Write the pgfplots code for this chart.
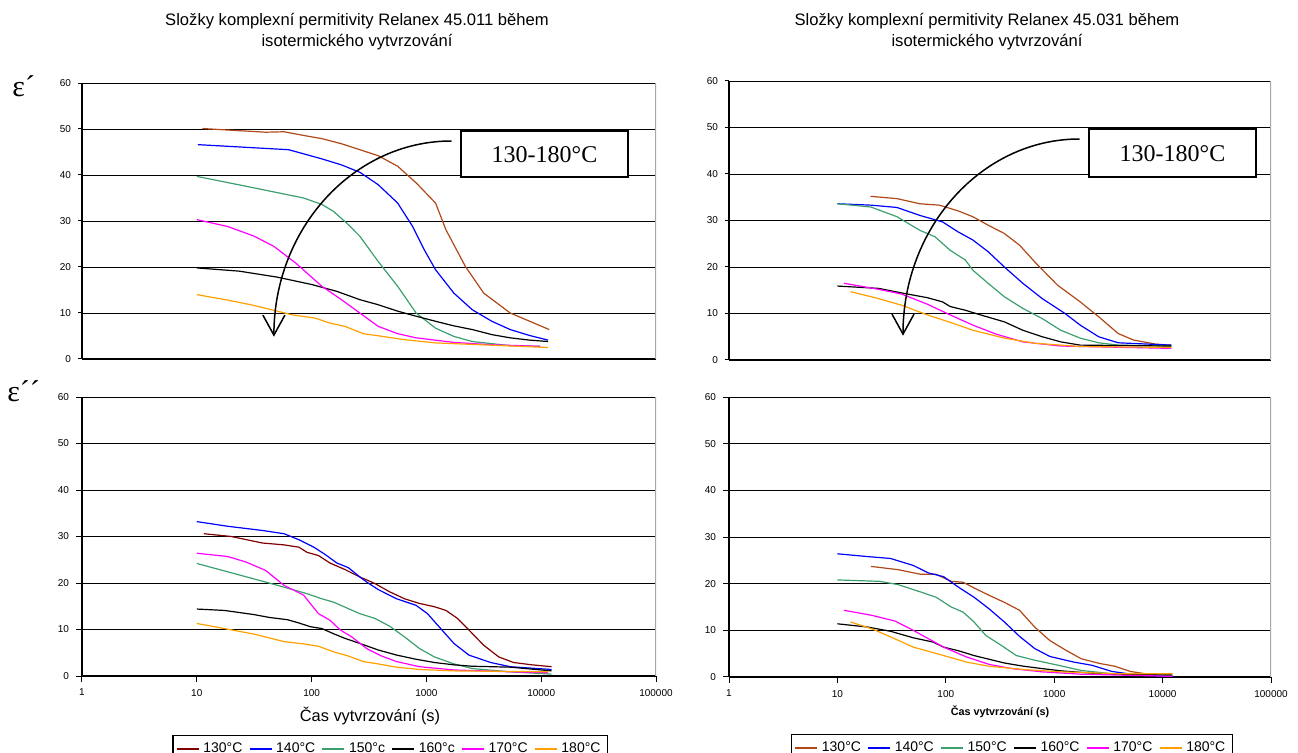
\documentclass[border=0pt]{standalone}
\usepackage{fontspec}
\setmainfont{Liberation Sans}
\newfontfamily\serif{Liberation Serif}
\usepackage{pgfplots}
\pgfplotsset{compat=1.18}
\usetikzlibrary{arrows.meta}
\pgfkeys{/pgf/number format/assume math mode=true}

\definecolor{cBrown}{RGB}{176,72,24}
\definecolor{cMaroon}{RGB}{128,0,0}
\definecolor{cBlue}{RGB}{0,0,255}
\definecolor{cGreen}{RGB}{60,160,110}
\definecolor{cMag}{RGB}{255,0,255}
\definecolor{cOrange}{RGB}{255,160,0}

\pgfplotsset{
 /pgfplots/panel/.style={
  xmin=1, xmax=100000, ymin=0, ymax=60,
  ytick={0,10,...,60}, ymajorgrids, grid style={black,line width=0.45pt},
  axis lines=left, axis line style={-, black, line width=0.6pt},
  scale only axis,
  tick label style={font=\fontsize{5}{6}\selectfont, black},
  tick style={black, line width=0.5pt}, tick align=outside, major tick length=2pt,
  xminorticks=false, yminorticks=false,
  every axis plot/.append style={line width=0.6pt, no marks},
 },
 /pgfplots/leg/.style={legend columns=6,
   legend style={draw=black, line width=0.6pt,
   font=\fontsize{7}{8}\selectfont, inner sep=1.5pt,
   /tikz/every even column/.append style={column sep=1.2pt}},
   legend image code/.code={\draw[##1,line width=0.7pt] (0pt,0pt)--(11pt,0pt);}},
}

\begin{document}
\begin{tikzpicture}
\path[use as bounding box] (0pt,0pt) rectangle (649pt,-376.5pt);

% ---------- top left ----------
\begin{axis}[xmode=log, panel, xtick=\empty, at={(41pt,-179.5pt)}, anchor=south west, width=287pt, height=138pt]
\addplot[cBrown] coordinates {(11.2,50.1) (39.8,49.3) (57.5,49.4) (85.1,48.6) (123,47.9) (182,46.8) (263,45.5) (380,44.2) (562,41.9) (813,38.3) (1202,33.9) (1479,28.1) (2188,20.1) (3162,14.3) (5370,10.0) (7943,8.2) (11749,6.4)};
\addplot[cBlue] coordinates {(10.2,46.6) (63.1,45.5) (123,43.5) (182,42.2) (263,40.6) (380,37.9) (562,33.9) (759,28.8) (955,23.8) (1202,19.4) (1738,14.3) (2512,10.7) (3715,8.2) (5370,6.4) (7943,5.1) (11482,4.1)};
\addplot[cGreen] coordinates {(10,39.7) (27.5,37.5) (85.1,35.0) (123,33.6) (155,32.1) (209,29.2) (263,26.7) (380,21.2) (562,15.8) (813,10.0) (1202,6.7) (1738,4.9) (2512,3.8) (5370,2.9) (9772,2.75)};
\addplot[black] coordinates {(10,19.8) (23.4,19.1) (50.1,17.8) (100,16.2) (166,14.7) (263,12.9) (380,11.8) (562,10.4) (813,9.3) (1202,8.2) (1738,7.2) (2512,6.4) (3715,5.3) (5370,4.6) (7943,4.1) (11482,3.8)};
\addplot[cMag] coordinates {(10,30.3) (18.6,28.8) (31.6,26.7) (46.8,24.5) (72.4,20.9) (123,15.8) (182,12.9) (263,10.0) (380,7.1) (562,5.5) (813,4.6) (1738,3.6) (3715,3.1) (9772,2.75)};
\addplot[cOrange] coordinates {(10,14.0) (18.6,12.8) (29.5,11.8) (46.8,10.6) (67.6,9.6) (107,8.9) (144.5,7.8) (195,7.1) (282,5.5) (417,4.9) (646,4.2) (1202,3.5) (3715,3.0) (11482,2.5)};
\draw[gray!70, line width=0.6pt] (rel axis cs:1,0) -- (rel axis cs:1,1);
\end{axis}

% ---------- top right ----------
\begin{axis}[xmode=log, panel, xtick=\empty, at={(364.5pt,-180pt)}, anchor=south west, width=271pt, height=139.5pt]
\addplot[cBrown] coordinates {(20.2,35.2) (35.5,34.7) (57.5,33.6) (87.1,33.3) (128.8,32.1) (177.8,30.8) (245.5,29.0) (347,27.2) (479,24.7) (661,21.1) (1072,16.1) (1738,12.5) (2570,9.3) (3890,5.7) (5370,4.3) (8710,3.4) (12023,3.2)};
\addplot[cBlue] coordinates {(10,33.6) (20.4,33.3) (35.5,32.8) (57.5,31.1) (93.3,29.7) (128.8,27.6) (177.8,25.8) (245.5,23.3) (347,20.0) (513,16.5) (776,13.2) (1259,10.0) (1738,7.5) (2570,5.0) (3890,3.7) (12023,3.2)};
\addplot[cGreen] coordinates {(10,33.6) (20.4,32.9) (35.5,30.8) (57.5,27.9) (79.4,26.5) (109.6,23.6) (151.4,21.5) (177.8,19.3) (245.5,16.5) (347,13.6) (513,11.1) (776,8.9) (1148,6.4) (1738,4.7) (2570,3.7) (3890,3.2) (12023,3.0)};
\addplot[black] coordinates {(10,15.9) (24,15.4) (41.7,14.3) (67.6,13.4) (93.3,12.5) (109.6,11.5) (151.4,10.7) (209,9.7) (347,8.2) (513,6.4) (776,5.0) (1148,3.9) (1738,3.2) (12023,3.0)};
\addplot[cMag] coordinates {(11.5,16.5) (24,15.2) (38.9,14.2) (67.6,12.0) (109.6,9.7) (177.8,7.5) (288,5.6) (513,3.9) (1148,3.0) (12023,2.5)};
\addplot[cOrange] coordinates {(13.2,14.7) (24,13.2) (38.9,11.8) (67.6,9.7) (109.6,8.1) (177.8,6.4) (347,4.7) (661,3.6) (1738,2.9) (12023,2.7)};
\draw[gray!70, line width=0.6pt] (rel axis cs:1,0) -- (rel axis cs:1,1);
\end{axis}

% ---------- bottom left ----------
\begin{axis}[xmode=log, panel, xtick={1,10,100,1000,10000,100000},
  xticklabels={1,10,100,1000,10000,100000}, major tick length=3pt,
  at={(41pt,-338pt)}, anchor=south west, width=287pt, height=139.5pt,
  leg, legend style={at={(0.537,-0.211)}, anchor=north}]
\addplot[cMaroon] coordinates {(11.5,30.6) (20,30.0) (37.2,28.6) (57.5,28.2) (77.6,27.7) (91.2,26.6) (114.8,25.9) (144.5,24.3) (195,22.9) (263,21.3) (355,19.9) (479,18.1) (646,16.6) (871,15.6) (1175,14.9) (1479,14.1) (1862,12.4) (2344,9.9) (3162,6.6) (4266,4.1) (5754,2.9) (8318,2.4) (12303,2.0)};
\addlegendentry{130°C}
\addplot[cBlue] coordinates {(10,33.2) (18.6,32.2) (37.2,31.3) (57.5,30.6) (77.6,29.3) (104.7,27.7) (131.8,26.1) (166,24.3) (209,23.3) (263,21.3) (302,20.2) (380,18.6) (550,16.6) (813,15.2) (1023,13.4) (1288,10.6) (1738,7.0) (2344,4.5) (3631,2.9) (5370,2.0) (12303,1.4)};
\addlegendentry{140°C}
\addplot[cGreen] coordinates {(10,24.2) (18.6,22.4) (39.8,20.2) (57.5,19.1) (91.2,17.7) (123,16.6) (154.9,15.9) (263,13.4) (355,12.4) (479,10.7) (646,8.4) (871,5.9) (1175,4.1) (1738,2.6) (2512,1.6) (5370,0.9) (12303,0.4)};
\addlegendentry{150°c}
\addplot[black] coordinates {(10,14.4) (17.4,14.1) (31.6,13.2) (42.7,12.6) (61.7,12.1) (77.6,11.4) (97.7,10.6) (123,10.2) (154.9,9.1) (195,8.1) (263,7.0) (380,5.6) (550,4.5) (813,3.6) (1175,2.9) (1738,2.4) (2512,2.1) (5370,1.9) (12303,1.1)};
\addlegendentry{160°c}
\addplot[cMag] coordinates {(10,26.4) (18.6,25.7) (26.9,24.5) (39.8,22.7) (57.5,19.5) (85.1,17.4) (114.8,13.4) (144.5,12.0) (177.8,9.9) (224,8.4) (302,5.9) (407,4.3) (550,3.1) (871,2.0) (1738,1.3) (5370,0.9) (11482,0.7)};
\addlegendentry{170°C}
\addplot[cOrange] coordinates {(10,11.3) (17.4,10.2) (31.6,9.0) (57.5,7.4) (85.1,6.9) (114.8,6.4) (154.9,5.2) (209,4.3) (282,3.1) (380,2.6) (550,1.9) (871,1.4) (1738,1.1) (11482,0.9)};
\addlegendentry{180°C}
\draw[gray!70, line width=0.6pt] (rel axis cs:1,0) -- (rel axis cs:1,1);
\end{axis}

% ---------- bottom right ----------
\begin{axis}[xmode=log, panel, xtick={1,10,100,1000,10000,100000},
  xticklabels={1,10,100,1000,10000,100000}, major tick length=3pt,
  at={(364.5pt,-338.5pt)}, anchor=south west, width=271pt, height=140pt,
  leg, legend style={at={(0.522,-0.204)}, anchor=north}]
\addplot[cBrown] coordinates {(20.4,23.7) (36.3,23.0) (58.9,22.0) (81.3,22.0) (112.2,20.5) (144.5,20.3) (182,19.1) (251,17.5) (347,16.0) (479,14.3) (661,10.7) (912,7.8) (1288,5.7) (1778,3.9) (2630,2.9) (3631,2.3) (5012,1.2) (6918,0.7) (12303,0.6)};
\addlegendentry{130°C}
\addplot[cBlue] coordinates {(10,26.4) (19.1,25.8) (30.9,25.4) (50.1,23.9) (69.2,22.3) (95.5,21.5) (131.8,19.2) (182,17.1) (251,14.6) (347,11.8) (479,8.7) (661,6.1) (912,4.4) (1514,3.2) (2239,2.5) (3388,1.2) (5888,0.4) (12589,0.1)};
\addlegendentry{140°C}
\addplot[cGreen] coordinates {(10,20.8) (24.5,20.5) (36.3,19.8) (58.9,18.2) (81.3,17.1) (112.2,15.0) (144.5,13.9) (182,11.8) (234,8.9) (324,6.8) (447,4.6) (661,3.6) (1096,2.5) (1778,1.4) (3388,0.7) (12303,0.4)};
\addlegendentry{150°C}
\addplot[black] coordinates {(10,11.4) (19.1,10.7) (30.9,9.8) (50.1,8.4) (75.9,7.5) (95.5,6.4) (131.8,5.6) (182,4.6) (251,3.8) (347,3.0) (525,2.3) (776,1.8) (1175,1.3) (2630,0.7) (12303,0.4)};
\addlegendentry{160°C}
\addplot[cMag] coordinates {(11.5,14.3) (20.9,13.2) (33.9,12.0) (50.1,10.0) (69.2,8.2) (95.5,6.4) (154.9,4.3) (251,2.7) (407,1.8) (776,1.1) (1778,0.6) (12303,0.15)};
\addlegendentry{170°C}
\addplot[cOrange] coordinates {(13.2,11.8) (20.9,10.3) (30.9,8.6) (50.1,6.4) (95.5,4.6) (154.9,3.2) (251,2.3) (525,1.6) (1175,1.1) (3981,0.7) (12303,0.7)};
\addlegendentry{180°C}
\draw[gray!70, line width=0.6pt] (rel axis cs:1,0) -- (rel axis cs:1,1);
\end{axis}

% ---------- annotations (pixel coordinates) ----------
\begin{scope}[x=0.5pt,y=-0.5pt]
\node[align=center, font=\fontsize{8.3}{10.5}\selectfont] at (357,32) {Složky komplexní permitivity Relanex 45.011 během\\isotermického vytvrzování};
\node[align=center, font=\fontsize{8.3}{10.5}\selectfont] at (987,32) {Složky komplexní permitivity Relanex 45.031 během\\isotermického vytvrzování};
\node[anchor=base west, inner sep=0pt, font=\serif\fontsize{15}{17}\selectfont] at (12,97) {ε´};
\node[anchor=base west, inner sep=0pt, font=\serif\fontsize{15}{17}\selectfont] at (7,402) {ε´´};
\node[font=\fontsize{8.2}{10}\selectfont] at (370,716) {Čas vytvrzování (s)};
\node[font=\bfseries\fontsize{5.4}{6.5}\selectfont] at (1000,712) {Čas vytvrzování (s)};
% boxes
\draw[line width=1pt, fill=white] (461,131) rectangle (628,177);
\node[font=\serif\fontsize{12}{14}\selectfont] at (544.5,154.5) {130-180°C};
\draw[line width=1pt, fill=white] (1089,129) rectangle (1256,177);
\node[font=\serif\fontsize{12}{14}\selectfont] at (1172.5,153.5) {130-180°C};
% arrows
\draw[line width=0.75pt, -{Straight Barb[length=10pt,width=11pt]}] (451.5,141) .. controls (353.3,141) and (273.9,228.7) .. (273.9,336.7);
\draw[line width=0.75pt, -{Straight Barb[length=10pt,width=11pt]}] (1079.5,139) .. controls (982,139) and (903,227) .. (903,335.7);
\end{scope}
\end{tikzpicture}
\end{document}
